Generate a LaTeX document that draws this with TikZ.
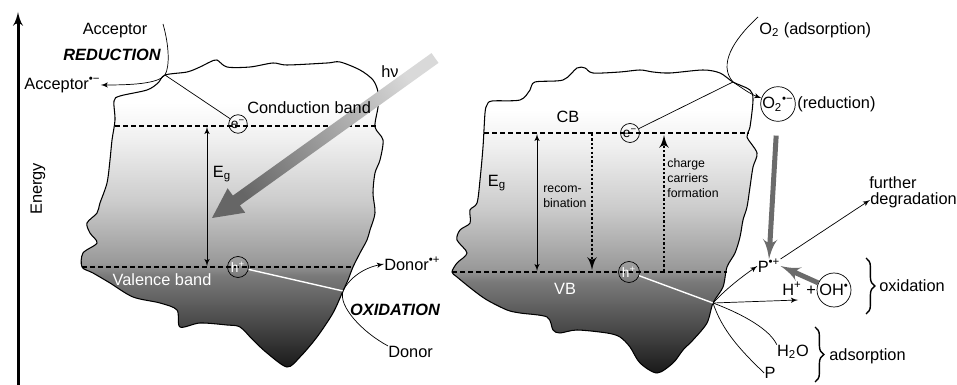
\documentclass[tikz,border=0pt]{standalone}
\usepackage{fontspec}
\setmainfont{Liberation Sans}
\usetikzlibrary{arrows,decorations.pathreplacing,positioning,shadings}

% grey ramp of the particles, white above the CB, dark below the VB
\pgfdeclareverticalshading{particle}{100bp}{color(0bp)=(black!90); color(25bp)=(black!90); color(32bp)=(black!72); color(40bp)=(black!52); color(42bp)=(black!40); color(52bp)=(black!20); color(62bp)=(black!6); color(68bp)=(white); color(100bp)=(white)}

\begin{document}
\begin{tikzpicture}[
    x=0.2mm, y=-0.2mm,
    >=latex',
    font=\fontsize{9.3}{11}\selectfont,
    lbl/.style={inner sep=0pt},
    note/.style={inner sep=0pt, align=left, font=\fontsize{7}{8.4}\selectfont},
    carrier/.style={circle, draw, thin, inner sep=0pt, minimum size=#1, font=\fontsize{7.8}{8}\selectfont},
    band/.style={thick, dash pattern=on 1mm off 0.6mm},
    dotarrow/.style={line width=1.5pt, dash pattern=on 1.3pt off 1.2pt, ->},
    grayarrow/.style={line width=1mm, draw=black!58, ->},
    bracket/.style={decorate, decoration={brace, amplitude=5pt}, thick}
  ]
  \useasboundingbox (0,0) rectangle (957,385);

  % energy axis
  \draw[line width=0.6mm, ->] (18,385) -- (18,12);
  \node[lbl, rotate=90] (energy) at (38,189) {Energy};

  %%% left particle
  \shadedraw[shading=particle, semithick] plot[smooth cycle, tension=0.5] coordinates {
    (165,75) (187,72) (200,67) (210,62) (217,60) (227,67) (250,67) (273,63)
    (287,65) (327,63) (340,62) (360,70) (373,80) (378,92) (378,107) (375,127)
    (383,140) (380,160) (375,173) (373,193) (375,213) (370,230) (367,240)
    (360,253) (353,267) (348,280) (343,291) (333,313) (317,337) (300,357)
    (287,367) (267,353) (253,340) (240,327) (227,325) (200,323) (180,327)
    (177,310) (160,303) (133,297) (110,283) (93,273) (82,267) (83,253)
    (97,243) (90,233) (87,223) (97,213) (100,203) (107,183) (110,160)
    (112,140) (115,120) (114,101) (120,96) (147,90) (158,83)};
  \draw[band] (115,126) -- (376,126);
  \draw[band] (82,267) -- (353,267);
  \coordinate (jl) at (165,75);
  \coordinate (dl) at (343,291);

  % light coming in
  \shade[top color=black!15, bottom color=black!60, shading angle=-54]
    (431.5,53.1) -- (232.9,195.6) -- (227.6,188.3) -- (212,218)
    -- (245.2,212.7) -- (239.9,205.4) -- (438.5,62.9) -- cycle;
  \node[lbl] (hv) at (390,72) {hν};

  \node[carrier=3.7mm] (eL) at (238,124) {e\textsuperscript{−}};
  \node[carrier=4.2mm, text=white] (hL) at (238,267) {h\textsuperscript{+}};
  \draw (jl) -- (eL);
  \draw[white, thick] (hL) -- (dl);

  \draw[<->] (207,127) -- (207,266);
  \node[lbl] (egL) at (222,174) {E\textsubscript{g}};
  \node[lbl, anchor=west] (cbL) at (247,108) {Conduction band};
  \node[lbl, text=white] (vbL) at (162,280) {Valence band};

  % acceptor side
  \node[lbl] (acc) at (115,31) {Acceptor};
  \node[lbl, font=\fontsize{9.3}{11}\selectfont\bfseries\itshape] (red) at (112,55) {REDUCTION};
  \node[lbl, anchor=west] (accm) at (24,85) {Acceptor\textsuperscript{•−}};
  \draw[->] (163,24) .. controls (169,45) and (170,66) .. (jl)
    .. controls (158,84) and (130,85) .. (accm.east);

  % donor side
  \node[lbl, anchor=west] (donp) at (384,264) {Donor\textsuperscript{•+}};
  \node[lbl, font=\fontsize{9.3}{11}\selectfont\bfseries\itshape] (oxi) at (395,310) {OXIDATION};
  \node[lbl, anchor=west] (don) at (388,352) {Donor};
  \draw[->] (don.north west) .. controls (362,332) and (338,306) .. (dl)
    .. controls (348,280) and (362,268) .. (donp.west);

  %%% right particle
  \shadedraw[shading=particle, semithick] plot[smooth cycle, tension=0.5] coordinates {
    (733,82) (750,90) (753,100) (750,127) (747,137) (757,153) (753,167)
    (750,187) (747,207) (743,220) (740,237) (735,253) (727,267) (723,287)
    (713,303) (707,323) (693,340) (683,350) (673,363) (657,373) (640,363)
    (630,347) (620,337) (607,333) (577,330) (560,333) (553,330) (547,317)
    (520,313) (507,310) (487,300) (473,290) (457,277) (452,272) (457,263)
    (467,253) (457,240) (460,230) (470,223) (470,210) (477,203) (480,180)
    (483,147) (485,113) (487,105) (492,101) (520,100) (530,90) (535,82)
    (563,80) (577,68) (585,68) (593,73) (620,72) (640,70) (653,72) (670,73)
    (703,70) (720,73)};
  \draw[band] (484,133) -- (749,133);
  \draw[band] (452,272) -- (727,272);
  \coordinate (jr) at (733,82);
  \coordinate (jb) at (713,303);

  \node[carrier=3.8mm] (eR) at (630,133) {e\textsuperscript{−}};
  \node[carrier=4.2mm, text=white] (hR) at (629,272) {h\textsuperscript{+}};
  \draw (jr) -- (eR);
  \draw[white, thick] (hR) -- (jb);

  \node[lbl] (cbR) at (568,117) {CB};
  \node[lbl, text=white] (vbR) at (565,289) {VB};
  \draw[<->] (537,134) -- (537,271);
  \node[lbl] (egR) at (497,183) {E\textsubscript{g}};
  \draw[dotarrow] (592,134) -- (592,270);
  \node[note, anchor=west] (recomb) at (543,197) {recom-\\bination};
  \draw[dotarrow] (664,271) -- (664,135);
  \node[note, anchor=west] (charge) at (667,178) {charge\\carriers\\formation};

  % oxygen reduction
  \node[lbl, anchor=west] (o2ads) at (759,30) {O\textsubscript{2} (adsorption)};
  \node[carrier=6.8mm, font=\fontsize{9.3}{11}\selectfont] (o2) at (778,104) {O\textsubscript{2}\textsuperscript{•−}};
  \node[lbl, anchor=west] (redn) at (797,104) {(reduction)};
  \draw[->] (758,17) .. controls (733,40) and (718,65) .. (jr)
    .. controls (742,88) and (750,94) .. (o2);

  % oxidation of P
  \node[lbl] (pp) at (769,266) {P\textsuperscript{•+}};
  \node[lbl, anchor=west] (hplus) at (782,289) {H\textsuperscript{+} +};
  \node[carrier=6.8mm, font=\fontsize{9.3}{11}\selectfont] (oh) at (834,290) {OH\textsuperscript{•}};
  \node[lbl, anchor=west] (furth) at (869,183) {further};
  \node[lbl, anchor=west] (degr) at (870,200) {degradation};
  \draw[grayarrow, shorten <=2.8mm] (o2) -- (pp.north);
  \draw[grayarrow] (oh) -- (pp.east);
  \draw[->] (pp.north east) -- (degr.west);
  \draw[bracket] (866,258) -- (866,314);
  \node[lbl, anchor=west] (oxid) at (879,286) {oxidation};

  % adsorption of water and P
  \node[lbl] (h2o) at (793,352) {H\textsubscript{2}O};
  \node[lbl] (pads) at (770,373) {P};
  \draw[bracket] (815,327) -- (815,382);
  \node[lbl, anchor=west] (adso) at (829,356) {adsorption};

  \draw[->] (jb) .. controls (725,290) and (740,278) .. (pp.west);
  \draw[->] (jb) -- (798,300);
  \draw (jb) .. controls (745,315) and (770,330) .. (h2o.north west);
  \draw (jb) .. controls (722,330) and (740,350) .. (pads.west);

\end{tikzpicture}
\end{document}
